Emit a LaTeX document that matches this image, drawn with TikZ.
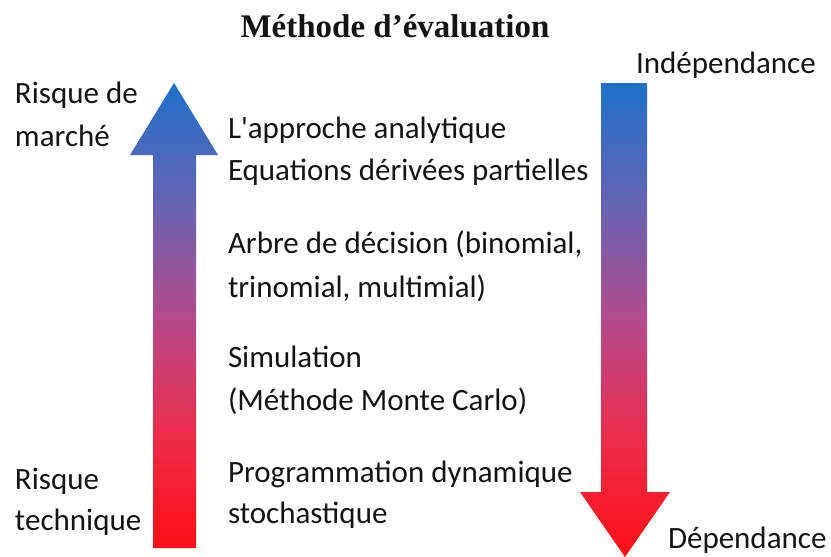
\documentclass[tikz,border=0pt]{standalone}
\usepackage{fontspec}
\setmainfont{Carlito}[Ligatures=TeXOff]
\newfontfamily\titlefont{Liberation Serif}
\usepackage{tikz}

\definecolor{topblue}{RGB}{30,112,200}
\definecolor{upblue}{RGB}{100,100,180}
\definecolor{midpurple}{RGB}{180,75,140}
\definecolor{lowred}{RGB}{235,45,75}
\definecolor{botred}{RGB}{255,15,20}
\definecolor{txt}{RGB}{20,20,20}
\pgfdeclareverticalshading{risk}{100bp}{color(0bp)=(botred); color(25bp)=(botred);
  color(37.5bp)=(lowred); color(50bp)=(midpurple); color(62.5bp)=(upblue);
  color(75bp)=(topblue); color(100bp)=(topblue)}

\begin{document}
\begin{tikzpicture}[x=1pt,y=-1pt,
    every node/.style={inner sep=0pt, outer sep=0pt, text=txt},
    lbl/.style={anchor=base west, font=\fontsize{31}{31}\selectfont},
    grad/.style={shading=risk}]
      \useasboundingbox (0,0) rectangle (831,557);
      \node[anchor=base, font=\titlefont\bfseries\fontsize{33}{33}\selectfont] (title) at (395,37) {Méthode d’évaluation};
      % arrows
      \shade[grad] (174,83) -- (218,155) -- (196,155) -- (196,548) -- (153,548) -- (153,155) -- (130,155) -- cycle;
      \shade[grad] (601,83) -- (647,83) -- (647,492) -- (670,492) -- (625,557) -- (580,492) -- (601,492) -- cycle;
      % left side
      \node[lbl] (marche1) at (15,103) {Risque de};
      \node[lbl] (marche2) at (15,146) {marché};
      \node[lbl] (tech1) at (15,489) {Risque};
      \node[lbl] (tech2) at (15,530) {technique};
      % methods
      \node[lbl] (appr) at (228,138) {L'approche analytique};
      \node[lbl] (eqs) at (228,180) {Equations dérivées partielles};
      \node[lbl] (arbre1) at (228,253) {Arbre de décision (binomial,};
      \node[lbl] (arbre2) at (228,297) {trinomial, multimial)};
      \node[lbl] (simu1) at (228,367) {Simulation};
      \node[lbl] (simu2) at (228,410) {(Méthode Monte Carlo)};
      \node[lbl] (prog1) at (228,482) {Programmation dynamique};
      \node[lbl] (prog2) at (228,523) {stochastique};
      % right side
      \node[lbl] (indep) at (636,73) {Indépendance};
      \node[lbl] (dep) at (668,548) {Dépendance};
\end{tikzpicture}
\end{document}
